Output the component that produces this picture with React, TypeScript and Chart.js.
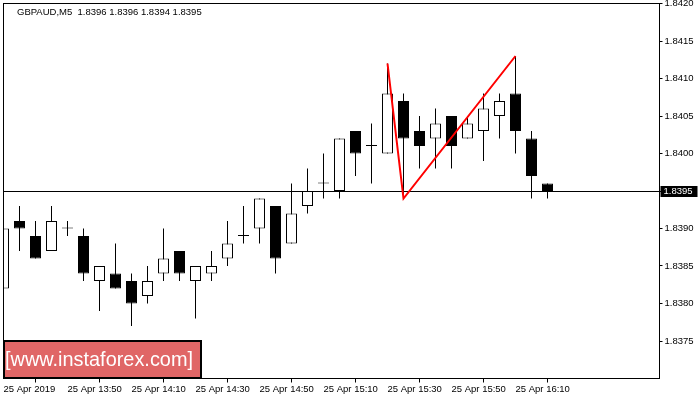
import React, { useEffect, useRef } from 'react';
import { Chart, registerables } from 'chart.js';

Chart.register(...registerables);

// Bar slots (M5). 35 candles 13:30..16:20, followed by 7 empty future slots.
const times = [
  '13:30', '13:35', '13:40', '13:45', '13:50', '13:55', '14:00', '14:05', '14:10', '14:15',
  '14:20', '14:25', '14:30', '14:35', '14:40', '14:45', '14:50', '14:55', '15:00', '15:05',
  '15:10', '15:15', '15:20', '15:25', '15:30', '15:35', '15:40', '15:45', '15:50', '15:55',
  '16:00', '16:05', '16:10', '16:15', '16:20', '16:25', '16:30', '16:35', '16:40', '16:45',
  '16:50', '16:55',
];

const opens = [
  1.8382, 1.8391, 1.8389, 1.8387, 1.8390, 1.8389, 1.8383, 1.8384, 1.8383, 1.8381,
  1.8384, 1.8387, 1.8383, 1.8384, 1.8386, 1.8389, 1.8390, 1.8393, 1.8388, 1.8393,
  1.8396, 1.8395, 1.8403, 1.8401, 1.8400, 1.8407, 1.8403, 1.8402, 1.8405, 1.8402,
  1.8403, 1.8405, 1.8408, 1.8402, 1.8396,
];
const highs = [
  1.8393, 1.8393, 1.8391, 1.8393, 1.8391, 1.8390, 1.8385, 1.8388, 1.8384, 1.8385,
  1.8390, 1.8387, 1.8385, 1.8387, 1.8391, 1.8393, 1.8394, 1.8393, 1.8396, 1.8398,
  1.8400, 1.8402, 1.8403, 1.8404, 1.8412, 1.8408, 1.8405, 1.8406, 1.8405, 1.8405,
  1.8408, 1.8408, 1.8413, 1.8403, 1.8396,
];
const lows = [
  1.8382, 1.8387, 1.8386, 1.8387, 1.8389, 1.8383, 1.8379, 1.8382, 1.8377, 1.8380,
  1.8383, 1.8383, 1.8378, 1.8383, 1.8385, 1.8388, 1.8388, 1.8384, 1.8388, 1.8392,
  1.8394, 1.8394, 1.8397, 1.8396, 1.8400, 1.8394, 1.8398, 1.8398, 1.8398, 1.8402,
  1.8399, 1.8402, 1.8400, 1.8394, 1.8394,
];
const closes = [
  1.8390, 1.8390, 1.8386, 1.8391, 1.8390, 1.8384, 1.8385, 1.8382, 1.8380, 1.8383,
  1.8386, 1.8384, 1.8385, 1.8385, 1.8388, 1.8389, 1.8394, 1.8386, 1.8392, 1.8395,
  1.8396, 1.8402, 1.8400, 1.8401, 1.8408, 1.8402, 1.8401, 1.8404, 1.8401, 1.8404,
  1.8406, 1.8407, 1.8403, 1.8397, 1.8395,
];

// Red pattern zig-zag
const patternTimes = ['15:30', '15:35', '16:10'];
const patternPrices = [1.8412, 1.8394, 1.8413];

// Axis ticks
const yTickValues = [1.8375, 1.838, 1.8385, 1.839, 1.8395, 1.84, 1.8405, 1.841, 1.8415, 1.842];
const xTickTimes = ['13:30', '13:50', '14:10', '14:30', '14:50', '15:10', '15:30', '15:50', '16:10'];
const xTickTexts = [
  '25 Apr 2019', '25 Apr 13:50', '25 Apr 14:10', '25 Apr 14:30', '25 Apr 14:50',
  '25 Apr 15:10', '25 Apr 15:30', '25 Apr 15:50', '25 Apr 16:10',
];

const symbol = 'GBPAUD,M5';
const watermark = '[www.instaforex.com]';
const yMin = 1.837;
const yMax = 1.842;

const FONT = "'Liberation Sans', Arial, sans-serif";

export default function App() {
  const ref = useRef<HTMLCanvasElement | null>(null);

  useEffect(() => {
    const canvas = ref.current;
    if (!canvas) return;
    const last = opens.length - 1;
    const bid = closes[last];

    const decor = {
      id: 'mtDecor',
      beforeDatasetsDraw(chart: any) {
        const { ctx, chartArea } = chart;
        const y = Math.round(chart.scales.y.getPixelForValue(bid)) + 0.5;
        ctx.save();
        ctx.strokeStyle = '#000';
        ctx.lineWidth = 1;
        ctx.beginPath();
        ctx.moveTo(chartArea.left, y);
        ctx.lineTo(chartArea.right + 1, y);
        ctx.stroke();
        ctx.restore();
      },
      afterDraw(chart: any) {
        const { ctx, chartArea } = chart;
        ctx.save();
        // frame
        ctx.strokeStyle = '#000';
        ctx.lineWidth = 1;
        ctx.strokeRect(chartArea.left, chartArea.top, chartArea.right - chartArea.left, chartArea.bottom - chartArea.top);
        // header
        ctx.fillStyle = '#000';
        ctx.font = `9.5px ${FONT}`;
        ctx.textBaseline = 'middle';
        ctx.textAlign = 'left';
        const head = `${symbol}  ${opens[last].toFixed(4)} ${highs[last].toFixed(4)} ${lows[last].toFixed(4)} ${closes[last].toFixed(4)}`;
        ctx.fillText(head, 17, 12);
        // bid label
        const yc = Math.round(chart.scales.y.getPixelForValue(bid));
        ctx.fillStyle = '#000';
        ctx.fillRect(chartArea.right + 1, yc - 5, 37, 11);
        ctx.fillStyle = '#fff';
        ctx.fillText(bid.toFixed(4), chartArea.right + 4, yc + 0.5);
        // watermark
        ctx.fillStyle = '#e06666';
        ctx.fillRect(3, 340, 199, 39);
        ctx.lineWidth = 2;
        ctx.strokeStyle = '#000';
        ctx.strokeRect(4, 341, 197, 37);
        ctx.font = `21px ${FONT}`;
        ctx.textBaseline = 'alphabetic';
        const w = ctx.measureText(watermark).width;
        ctx.translate(5, 365.5);
        ctx.scale(188 / w, 1);
        ctx.fillStyle = '#fff';
        ctx.fillText(watermark, 0, 0);
        ctx.restore();
      },
    };

    const chart = new Chart(canvas, {
      type: 'bar',
      data: {
        labels: times,
        datasets: [
          {
            type: 'line',
            data: patternTimes.map((t, i) => ({ x: t, y: patternPrices[i] })),
            borderColor: '#ff0000',
            borderWidth: 2,
            pointRadius: 0,
            tension: 0,
            fill: false,
            order: 0,
          } as any,
          {
            data: opens.map((o, i) => [o, closes[i]]),
            backgroundColor: opens.map((o, i) => (closes[i] > o ? '#ffffff' : '#000000')),
            borderColor: '#000000',
            borderWidth: 1,
            borderSkipped: false,
            barThickness: 11,
            minBarLength: 1,
            grouped: false,
            inflateAmount: 0,
            order: 1,
          },
          {
            data: lows.map((l, i) => [l, highs[i]]),
            backgroundColor: '#000000',
            borderWidth: 0,
            barThickness: 1,
            grouped: false,
            inflateAmount: 0,
            order: 2,
          },
        ],
      },
      options: {
        animation: false,
        responsive: false,
        events: [],
        layout: { padding: { left: 3.5, top: 3.5, right: 0, bottom: 0 } },
        plugins: {
          legend: { display: false },
          tooltip: { enabled: false },
        },
        scales: {
          x: {
            type: 'category',
            offset: false,
            grid: { drawOnChartArea: false, drawTicks: true, tickLength: 4, color: '#000', tickColor: '#000' },
            border: { display: false },
            ticks: {
              autoSkip: false,
              maxRotation: 0,
              minRotation: 0,
              align: 'start',
              padding: 1,
              color: '#000',
              font: { family: FONT, size: 9.5 },
              callback: (value: any) => {
                const k = xTickTimes.indexOf(times[value as number]);
                return k >= 0 ? xTickTexts[k] : '';
              },
            },
            afterBuildTicks: (s: any) => {
              s.ticks = xTickTimes.map((t) => ({ value: times.indexOf(t) }));
            },
            afterFit: (s: any) => {
              s.height = 21.5;
              s.paddingLeft = 0;
              s.paddingRight = 0;
            },
          },
          y: {
            type: 'linear',
            position: 'right',
            min: yMin,
            max: yMax,
            grid: { drawOnChartArea: false, drawTicks: true, tickLength: 3, color: '#000', tickColor: '#000' },
            border: { display: false },
            ticks: {
              padding: 2,
              color: '#000',
              font: { family: FONT, size: 9.5 },
              callback: (v: any) => Number(v).toFixed(4),
            },
            afterBuildTicks: (s: any) => {
              s.ticks = yTickValues.map((v) => ({ value: v }));
            },
            afterFit: (s: any) => {
              s.width = 40.5;
              s.paddingTop = 0;
              s.paddingBottom = 0;
            },
          },
        },
      } as any,
      plugins: [decor],
    });

    return () => chart.destroy();
  }, []);

  return (
    <div style={{ position: 'absolute', left: 0, top: 0, width: 700, height: 400, background: '#fff' }}>
      <canvas ref={ref} width={700} height={400} style={{ width: 700, height: 400, display: 'block' }} />
    </div>
  );
}
